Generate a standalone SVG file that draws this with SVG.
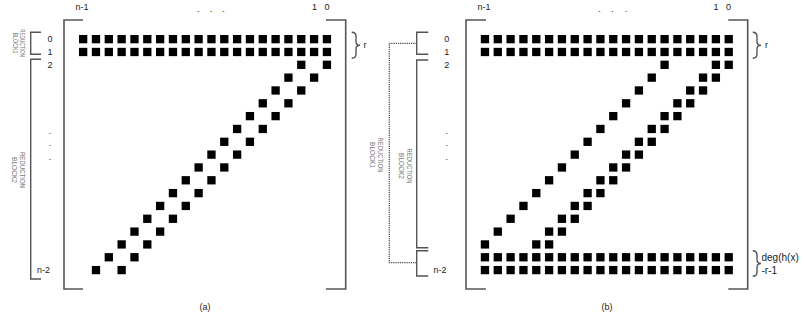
<svg xmlns="http://www.w3.org/2000/svg" xmlns:xlink="http://www.w3.org/1999/xlink" width="804" height="324" viewBox="0 0 804 324">
<style>
  .lbl { font-family: "Liberation Sans", Arial, sans-serif; font-size: 9px; fill: #222; }
  .mid { text-anchor: middle; }
  .rot { font-family: "Liberation Sans", Arial, sans-serif; font-size: 7px; fill: #777; text-anchor: middle; }
  .brk { fill: none; stroke: #555; stroke-width: 1.4; }
  .mat { fill: none; stroke: #555; stroke-width: 1.6; }
  .dot { fill: none; stroke: #444; stroke-width: 1.2; stroke-dasharray: 1.2 1; }
  .sq { fill: #000; }
</style>
<defs>
  <rect id="sq" class="sq" width="8.3" height="8.3"/>
  <g id="fullrow">
    <use href="#sq" x="0"/><use href="#sq" x="12.83"/><use href="#sq" x="25.66"/><use href="#sq" x="38.49"/>
    <use href="#sq" x="51.32"/><use href="#sq" x="64.15"/><use href="#sq" x="76.98"/><use href="#sq" x="89.81"/>
    <use href="#sq" x="102.64"/><use href="#sq" x="115.47"/><use href="#sq" x="128.3"/><use href="#sq" x="141.13"/>
    <use href="#sq" x="153.96"/><use href="#sq" x="166.79"/><use href="#sq" x="179.62"/><use href="#sq" x="192.45"/>
    <use href="#sq" x="205.28"/><use href="#sq" x="218.11"/><use href="#sq" x="230.94"/><use href="#sq" x="243.77"/>
  </g>
  <g id="pairA"><use href="#sq" x="0"/><use href="#sq" x="25.66"/></g>
  <g id="tripB"><use href="#sq" x="0"/><use href="#sq" x="51.32"/><use href="#sq" x="64.15"/></g>
</defs>

<!-- ===== Panel (a) ===== -->
<g id="panel-a">
  <g id="a-matrix">
    <path class="mat" d="M83,20 H64 V289 H83"/>
    <path class="mat" d="M326,20 H345.7 V289 H326"/>
  </g>
  <g id="a-colLabels">
    <text class="lbl mid" x="82" y="10">n-1</text>
    <text class="lbl mid" x="198.3" y="12">.</text>
    <text class="lbl mid" x="211" y="12">.</text>
    <text class="lbl mid" x="223.5" y="12">.</text>
    <text class="lbl mid" x="314.5" y="10">1</text>
    <text class="lbl mid" x="327" y="10">0</text>
  </g>
  <g id="a-rowLabels">
    <text class="lbl mid" x="50" y="42">0</text>
    <text class="lbl mid" x="50" y="55">1</text>
    <text class="lbl mid" x="50" y="68">2</text>
    <text class="lbl mid" x="50" y="134">.</text>
    <text class="lbl mid" x="50" y="146">.</text>
    <text class="lbl mid" x="50" y="160">.</text>
    <text class="lbl" x="37" y="273">n-2</text>
  </g>
  <g id="a-block1">
    <path class="brk" d="M41,32.3 H30.7 V54.3 H41"/>
    <text class="rot" transform="translate(20,43) rotate(90)" textLength="28" lengthAdjust="spacingAndGlyphs">REDUCTION</text>
    <text class="rot" transform="translate(12.5,43) rotate(90)" textLength="21" lengthAdjust="spacingAndGlyphs">BLOCK1</text>
  </g>
  <g id="a-block2">
    <path class="brk" d="M41,59.3 H30.7 V279 H41"/>
    <text class="rot" transform="translate(20,170) rotate(90)" textLength="36" lengthAdjust="spacingAndGlyphs">REDUCTION</text>
    <text class="rot" transform="translate(12,170) rotate(90)" textLength="26" lengthAdjust="spacingAndGlyphs">BLOCK2</text>
  </g>
  <g id="a-brace-r">
    <path class="brk" d="M351.7,32.3 Q356,32.3 356,36.5 V41.5 Q356,45.3 360,45.3 Q356,45.3 356,49.1 V54.1 Q356,58.3 351.7,58.3"/>
    <text class="lbl" x="363.5" y="48">r</text>
  </g>
  <g id="a-cells">
    <use href="#fullrow" x="79" y="35"/>
    <use href="#fullrow" x="79" y="47.83"/>
    <use href="#pairA" x="297.11" y="60.66"/>
    <use href="#pairA" x="284.28" y="73.49"/>
    <use href="#pairA" x="271.45" y="86.32"/>
    <use href="#pairA" x="258.62" y="99.15"/>
    <use href="#pairA" x="245.79" y="111.98"/>
    <use href="#pairA" x="232.96" y="124.81"/>
    <use href="#pairA" x="220.13" y="137.64"/>
    <use href="#pairA" x="207.3" y="150.47"/>
    <use href="#pairA" x="194.47" y="163.3"/>
    <use href="#pairA" x="181.64" y="176.13"/>
    <use href="#pairA" x="168.81" y="188.96"/>
    <use href="#pairA" x="155.98" y="201.79"/>
    <use href="#pairA" x="143.15" y="214.62"/>
    <use href="#pairA" x="130.32" y="227.45"/>
    <use href="#pairA" x="117.49" y="240.28"/>
    <use href="#pairA" x="104.66" y="253.11"/>
    <use href="#pairA" x="91.83" y="265.94"/>
  </g>
  <text id="a-caption" class="lbl mid" x="205" y="310">(a)</text>
</g>

<!-- ===== Panel (b) ===== -->
<g id="panel-b">
  <g id="b-matrix">
    <path class="mat" d="M486,20 H466 V289 H486"/>
    <path class="mat" d="M728.3,20 H747.7 V289 H728.3"/>
  </g>
  <g id="b-colLabels">
    <text class="lbl mid" x="484" y="10">n-1</text>
    <text class="lbl mid" x="599.5" y="12">.</text>
    <text class="lbl mid" x="612.5" y="12">.</text>
    <text class="lbl mid" x="626" y="12">.</text>
    <text class="lbl mid" x="716" y="10">1</text>
    <text class="lbl mid" x="728.5" y="10">0</text>
  </g>
  <g id="b-rowLabels">
    <text class="lbl mid" x="446.7" y="42">0</text>
    <text class="lbl mid" x="446.7" y="55">1</text>
    <text class="lbl mid" x="446.7" y="68">2</text>
    <text class="lbl mid" x="446.7" y="134">.</text>
    <text class="lbl mid" x="446.7" y="146">.</text>
    <text class="lbl mid" x="446.7" y="160">.</text>
    <text class="lbl" x="433.5" y="273">n-2</text>
  </g>
  <g id="b-block1">
    <path class="brk" d="M428.3,32.3 H416.7 V54.3 H428.3"/>
    <path class="brk" d="M428.3,250.7 H416.7 V276 H428.3"/>
    <text class="rot" transform="translate(378,155) rotate(90)" textLength="35" lengthAdjust="spacingAndGlyphs">REDUCTION</text>
    <text class="rot" transform="translate(370,155) rotate(90)" textLength="26" lengthAdjust="spacingAndGlyphs">BLOCK1</text>
  </g>
  <g id="b-block2">
    <path class="brk" d="M428.3,60 H416.7 V247.7 H428.3"/>
    <text class="rot" transform="translate(407,166) rotate(90)" textLength="35" lengthAdjust="spacingAndGlyphs">REDUCTION</text>
    <text class="rot" transform="translate(398.5,166) rotate(90)" textLength="26" lengthAdjust="spacingAndGlyphs">BLOCK2</text>
  </g>
  <g id="b-brace-r">
    <path class="brk" d="M752.7,32.3 Q757,32.3 757,36.5 V41.5 Q757,45.3 761,45.3 Q757,45.3 757,49.1 V54.1 Q757,58.3 752.7,58.3"/>
    <text class="lbl" x="765" y="48">r</text>
  </g>
  <g id="b-brace-deg">
    <path class="brk" d="M752.7,250.7 Q757,250.7 757,255 V259.5 Q757,263.5 761,263.5 Q757,263.5 757,267.5 V272 Q757,276.3 752.7,276.3"/>
    <text class="lbl" x="761.5" y="261" style="font-size:10px">deg(h(x)</text>
    <text class="lbl" x="761.5" y="274" style="font-size:10px">-r-1</text>
  </g>
  <g id="b-cells">
    <use href="#fullrow" x="480.8" y="35"/>
    <use href="#fullrow" x="480.8" y="47.83"/>
    <use href="#tripB" x="660.42" y="60.66"/>
    <use href="#tripB" x="647.59" y="73.49"/>
    <use href="#tripB" x="634.76" y="86.32"/>
    <use href="#tripB" x="621.93" y="99.15"/>
    <use href="#tripB" x="609.1" y="111.98"/>
    <use href="#tripB" x="596.27" y="124.81"/>
    <use href="#tripB" x="583.44" y="137.64"/>
    <use href="#tripB" x="570.61" y="150.47"/>
    <use href="#tripB" x="557.78" y="163.3"/>
    <use href="#tripB" x="544.95" y="176.13"/>
    <use href="#tripB" x="532.12" y="188.96"/>
    <use href="#tripB" x="519.29" y="201.79"/>
    <use href="#tripB" x="506.46" y="214.62"/>
    <use href="#tripB" x="493.63" y="227.45"/>
    <use href="#tripB" x="480.8" y="240.28"/>
    <use href="#fullrow" x="480.8" y="253.11"/>
    <use href="#fullrow" x="480.8" y="265.94"/>
  </g>
  <text id="b-caption" class="lbl mid" x="607" y="310">(b)</text>
</g>

<!-- ===== Connectors ===== -->
<g id="connectors">
  <path class="dot" d="M416.7,43.3 H389.3 V262.7 H416.7"/>
</g>
</svg>
